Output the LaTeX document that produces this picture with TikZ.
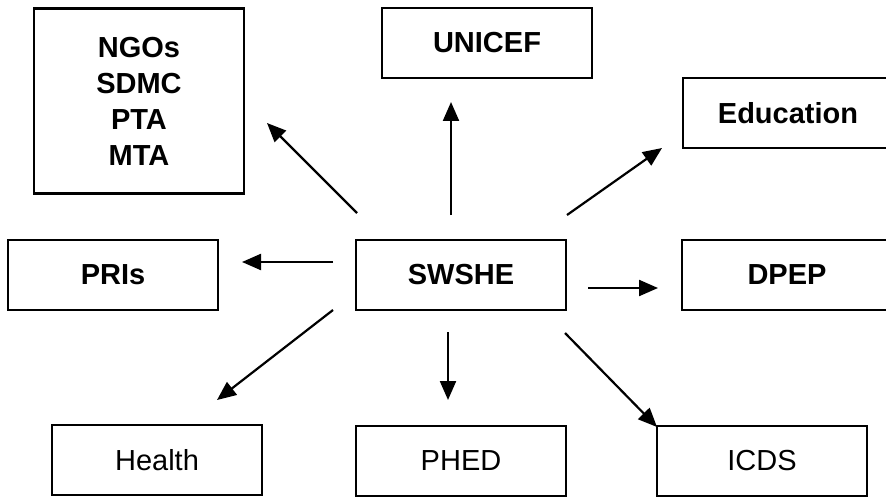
\documentclass[tikz,border=0pt]{standalone}
\usepackage{fontspec}
\setmainfont{Liberation Sans}
\usetikzlibrary{arrows.meta,positioning}

\begin{document}
\begin{tikzpicture}[x=0.5pt,y=-0.5pt,
    node distance=2cm,on grid,>={Triangle[length=9.5pt,width=8pt]},
    block/.style={rectangle,draw,line width=1.3pt,minimum width=105pt,minimum height=35pt,
      inner sep=0pt,align=center,font=\fontsize{14.5}{18}\selectfont\bfseries},
    light/.style={block,font=\fontsize{14.5}{18}\selectfont},
    link/.style={->,line width=1.1pt}]
  \clip (0,0) rectangle (886,497);

  \node[block] (swshe) at (461,275) {SWSHE};
  \node[block, minimum height=92.5pt, above left=87pt and 161pt of swshe] (ngos) {NGOs\\SDMC\\PTA\\MTA};
  \node[block, above right=116pt and 13pt of swshe] (unicef) {UNICEF};
  \node[block, above right=81pt and 163.5pt of swshe] (edu) {Education};
  \node[block, left=174pt of swshe] (pris) {PRIs};
  \node[block, right=163pt of swshe] (dpep) {DPEP};
  \node[light, below left=92.5pt and 152pt of swshe] (health) {Health};
  \node[light, below=93pt of swshe] (phed) {PHED};
  \node[light, below right=93pt and 150.5pt of swshe] (icds) {ICDS};

  % arrow ends, free of the boxes
  \coordinate (ngos tail) at (357,213);   \coordinate (ngos tip) at (267,123);
  \coordinate (unicef tail) at (451,215); \coordinate (unicef tip) at (451,102);
  \coordinate (edu tail) at (567,215);    \coordinate (edu tip) at (662,148);
  \coordinate (pris tail) at (333,262);   \coordinate (pris tip) at (242,262);
  \coordinate (dpep tail) at (588,288);   \coordinate (dpep tip) at (658,288);
  \coordinate (health tail) at (333,310); \coordinate (health tip) at (217,400);
  \coordinate (phed tail) at (448,332);   \coordinate (phed tip) at (448,400);
  \coordinate (icds tail) at (565,333);   \coordinate (icds tip) at (657,427);

  \draw[link] (ngos tail) -- (ngos tip);
  \draw[link] (unicef tail) -- (unicef tip);
  \draw[link] (edu tail) -- (edu tip);
  \draw[link] (pris tail) -- (pris tip);
  \draw[link] (dpep tail) -- (dpep tip);
  \draw[link] (health tail) -- (health tip);
  \draw[link] (phed tail) -- (phed tip);
  \draw[link] (icds tail) -- (icds tip);
\end{tikzpicture}
\end{document}
